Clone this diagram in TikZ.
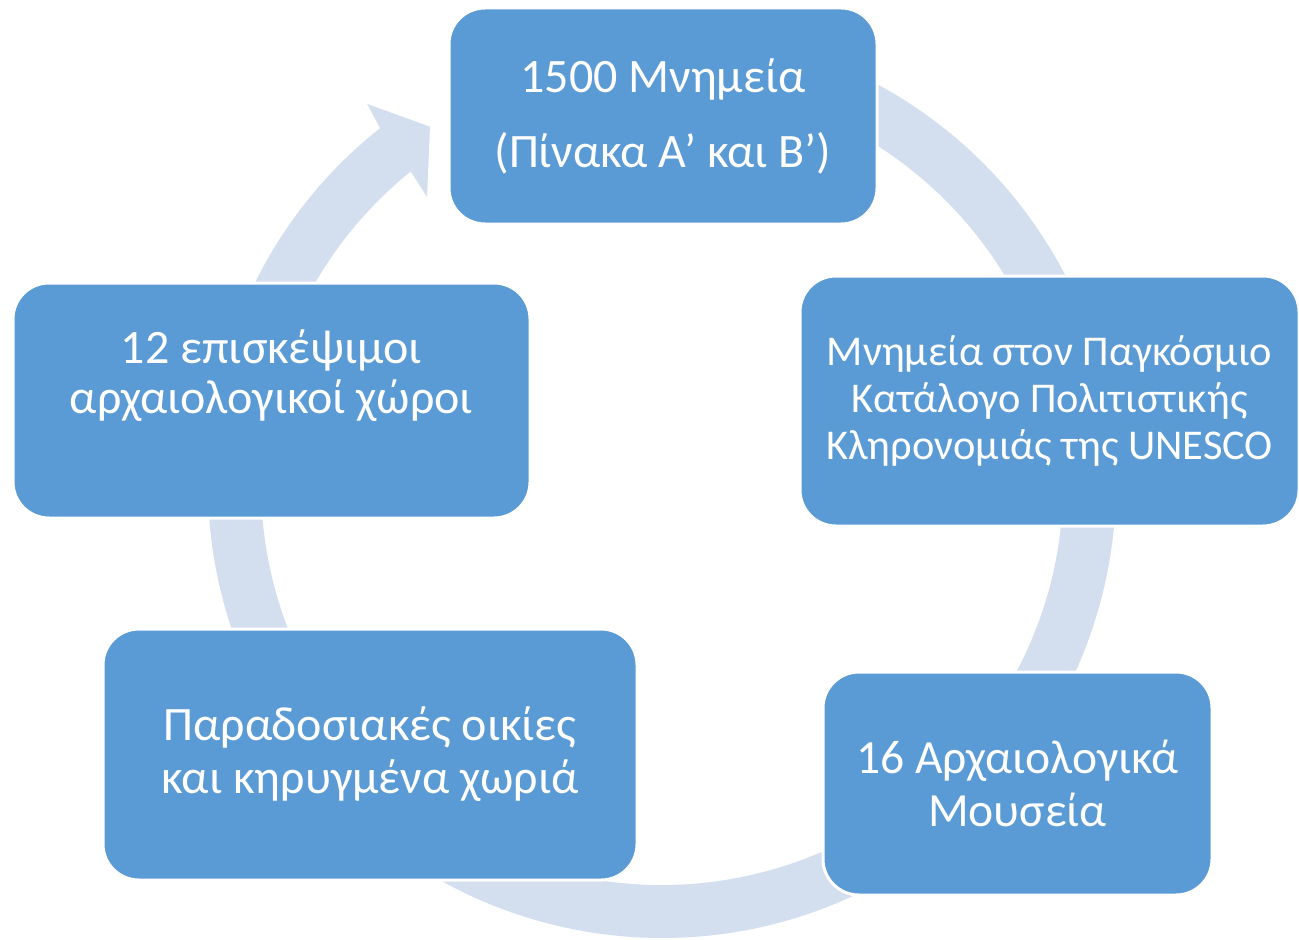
\documentclass[tikz,border=0pt]{standalone}
\usepackage{fontspec}
\setmainfont{Carlito}
\definecolor{boxblue}{RGB}{91,155,213}
\definecolor{ringblue}{RGB}{211,222,239}
\tikzset{
  stage/.style={rectangle, rounded corners=18pt, fill=boxblue, draw=white, line width=1.5pt, text=white, align=center, inner sep=0pt},
}

\begin{document}
\begin{tikzpicture}[x=1pt,y=1pt]
\useasboundingbox (0,0) rectangle (649.5,469.5);
% ring with arrow head
\begin{scope}[shift={(331,227.5)}]
\fill[ringblue] (128.4:227) arc[start angle=128.4, end angle=460, radius=227] -- (460:200.5) arc[start angle=460, end angle=128.8, radius=200.5] -- (129.3:185.5) -- (123:213) -- (127.8:240.5) -- cycle;
\end{scope}
% stages
\node (mnimeia) [stage, minimum width=214pt, minimum height=108pt, font=\fontsize{24}{37.5}\selectfont] at (331.5,411.5) {1500 Μνημεία\\(Πίνακα Α’ και Β’)};
\node (unesco) [stage, minimum width=249.5pt, minimum height=125pt, font=\fontsize{21.2}{23.5}\selectfont] at (524.75,269) {Μνημεία στον Παγκόσμιο\\Κατάλογο Πολιτιστικής\\Κληρονομιάς της UNESCO};
\node (mouseia) [stage, minimum width=194.5pt, minimum height=111.5pt, font=\fontsize{23.8}{26.5}\selectfont] at (508.75,77.75) {16 Αρχαιολογικά\\Μουσεία};
\node (oikies) [stage, minimum width=267pt, minimum height=125.5pt, font=\fontsize{24}{26.5}\selectfont] at (185,92.25) {Παραδοσιακές οικίες\\και κηρυγμένα χωριά};
\node (xoroi) [stage, minimum width=258.5pt, minimum height=117.5pt, font=\fontsize{24}{25}\selectfont] at (135.75,269.25) {12 επισκέψιμοι\\αρχαιολογικοί χώροι\\[4pt]\mbox{}};
\end{tikzpicture}
\end{document}
